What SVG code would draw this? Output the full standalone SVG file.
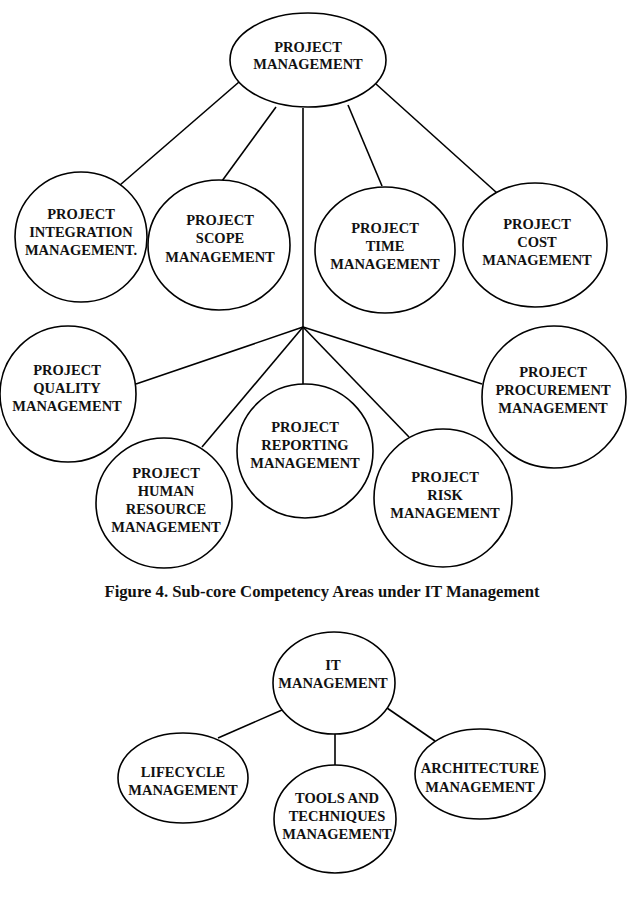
<svg xmlns="http://www.w3.org/2000/svg" width="627" height="905" viewBox="0 0 627 905">
<style>
.n{fill:#fff;stroke:#000;stroke-width:1.6}
.c line{stroke:#000;stroke-width:1.6}
text{font-family:"Liberation Serif","Times New Roman",serif;font-weight:bold;font-size:14.5px;text-anchor:middle;fill:#111}
.cap{font-size:16.7px}
</style>
<rect width="627" height="905" fill="#fff"/>
<g id="connectors" class="c">
<line x1="239" y1="82" x2="120" y2="185"/>
<line x1="276" y1="107" x2="222" y2="181"/>
<line x1="303" y1="108" x2="303" y2="327"/>
<line x1="348" y1="105" x2="382" y2="186"/>
<line x1="376" y1="84" x2="497" y2="193"/>
<line x1="303" y1="327" x2="136" y2="384"/>
<line x1="303" y1="327" x2="202" y2="447"/>
<line x1="303" y1="327" x2="303" y2="384"/>
<line x1="303" y1="327" x2="409" y2="437"/>
<line x1="303" y1="327" x2="482" y2="384"/>
<line x1="282" y1="710" x2="218" y2="738"/>
<line x1="335" y1="734" x2="335" y2="765"/>
<line x1="387" y1="708" x2="435" y2="741"/>
</g>
<g id="project-management">
<ellipse class="n" cx="308" cy="60" rx="78" ry="47"/>
<text x="308" y="52">PROJECT</text>
<text x="308" y="69">MANAGEMENT</text>
</g>
<g id="integration">
<ellipse class="n" cx="81" cy="237" rx="66" ry="65"/>
<text x="81" y="219">PROJECT</text>
<text x="81" y="237">INTEGRATION</text>
<text x="81" y="255">MANAGEMENT.</text>
</g>
<g id="scope">
<ellipse class="n" cx="219" cy="245" rx="71" ry="65"/>
<text x="220" y="225">PROJECT</text>
<text x="220" y="243">SCOPE</text>
<text x="220" y="262">MANAGEMENT</text>
</g>
<g id="time">
<ellipse class="n" cx="385" cy="250" rx="70" ry="63"/>
<text x="385" y="233">PROJECT</text>
<text x="385" y="251">TIME</text>
<text x="385" y="269">MANAGEMENT</text>
</g>
<g id="cost">
<ellipse class="n" cx="535" cy="245" rx="72" ry="62"/>
<text x="537" y="229">PROJECT</text>
<text x="537" y="247">COST</text>
<text x="537" y="265">MANAGEMENT</text>
</g>
<g id="quality">
<ellipse class="n" cx="68" cy="394" rx="68" ry="68"/>
<text x="67" y="375">PROJECT</text>
<text x="67" y="393">QUALITY</text>
<text x="67" y="411">MANAGEMENT</text>
</g>
<g id="human-resource">
<ellipse class="n" cx="164" cy="503" rx="68" ry="65"/>
<text x="166" y="478">PROJECT</text>
<text x="166" y="496">HUMAN</text>
<text x="166" y="514">RESOURCE</text>
<text x="166" y="532">MANAGEMENT</text>
</g>
<g id="reporting">
<ellipse class="n" cx="305" cy="451" rx="68" ry="67"/>
<text x="305" y="432">PROJECT</text>
<text x="305" y="450">REPORTING</text>
<text x="305" y="468">MANAGEMENT</text>
</g>
<g id="risk">
<ellipse class="n" cx="443" cy="498" rx="69" ry="69"/>
<text x="445" y="482">PROJECT</text>
<text x="445" y="500">RISK</text>
<text x="445" y="518">MANAGEMENT</text>
</g>
<g id="procurement">
<ellipse class="n" cx="554" cy="397" rx="72" ry="71"/>
<text x="553" y="377">PROJECT</text>
<text x="553" y="395">PROCUREMENT</text>
<text x="553" y="413">MANAGEMENT</text>
</g>
<text class="cap" x="322" y="597">Figure 4. Sub-core Competency Areas under IT Management</text>
<g id="it-management">
<ellipse class="n" cx="334" cy="683" rx="61" ry="51"/>
<text x="333" y="670">IT</text>
<text x="333" y="688">MANAGEMENT</text>
</g>
<g id="lifecycle">
<ellipse class="n" cx="183" cy="778" rx="65" ry="45"/>
<text x="183" y="777">LIFECYCLE</text>
<text x="183" y="795">MANAGEMENT</text>
</g>
<g id="tools">
<ellipse class="n" cx="335" cy="819" rx="61" ry="54"/>
<text x="337" y="803">TOOLS AND</text>
<text x="337" y="821">TECHNIQUES</text>
<text x="337" y="839">MANAGEMENT</text>
</g>
<g id="architecture">
<ellipse class="n" cx="480" cy="774" rx="65" ry="45"/>
<text x="480" y="773">ARCHITECTURE</text>
<text x="480" y="792">MANAGEMENT</text>
</g>
</svg>
